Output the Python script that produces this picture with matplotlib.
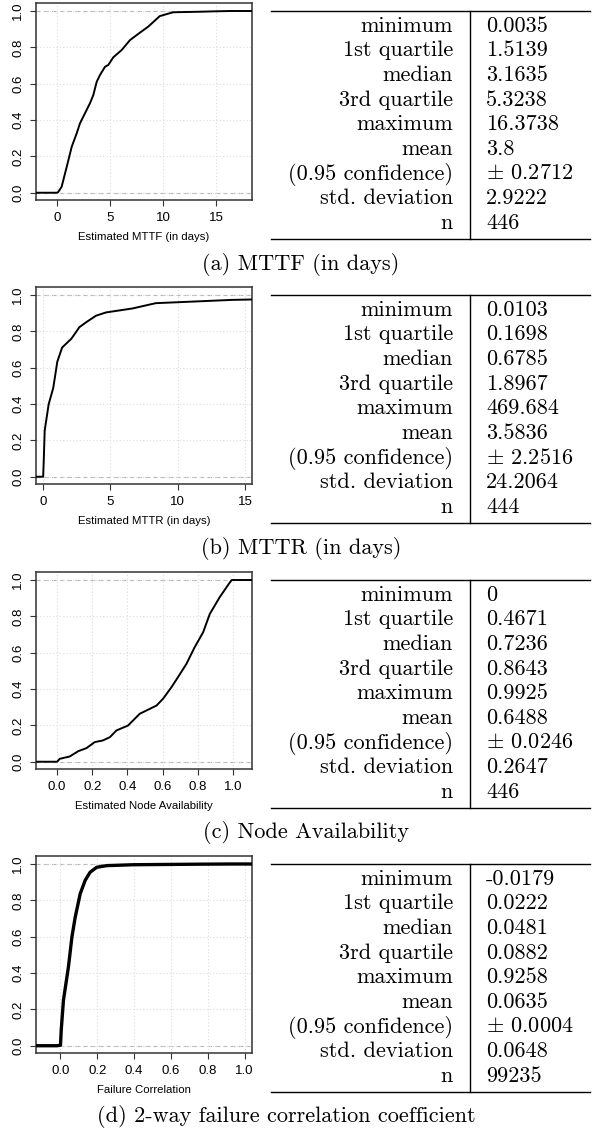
import matplotlib
matplotlib.use("Agg")
import matplotlib.pyplot as plt

plt.rcParams["mathtext.fontset"] = "cm"

# ---------------- data ----------------
stat_labels = ["minimum", "1st quartile", "median", "3rd quartile", "maximum",
               "mean", "(0.95 confidence)", "std. deviation", "n"]
mttf_stats = ["0.0035", "1.5139", "3.1635", "5.3238", "16.3738", "3.8",
              r"$\pm$ 0.2712", "2.9222", "446"]
mttr_stats = ["0.0103", "0.1698", "0.6785", "1.8967", "469.684", "3.5836",
              r"$\pm$ 2.2516", "24.2064", "444"]
avail_stats = ["0", "0.4671", "0.7236", "0.8643", "0.9925", "0.6488",
               r"$\pm$ 0.0246", "0.2647", "446"]
corr_stats = ["-0.0179", "0.0222", "0.0481", "0.0882", "0.9258", "0.0635",
              r"$\pm$ 0.0004", "0.0648", "99235"]

captions = ["(a) MTTF (in days)", "(b) MTTR (in days)",
            "(c) Node Availability", "(d) 2-way failure correlation coefficient"]
xlabels = ["Estimated MTTF (in days)", "Estimated MTTR (in days)",
           "Estimated Node Availability", "Failure Correlation"]

mttf_x = [-5, 0.0035, 0.12, 0.44, 0.92, 1.39, 1.86, 2.17, 2.64, 3.11, 3.43, 3.75,
          4.06, 4.53, 4.84, 5.31, 6.1, 6.89, 7.83, 8.61, 9.7, 10.96, 13.5, 14.76,
          16.3738, 40]
mttf_F = [0, 0, 0.004, 0.033, 0.143, 0.253, 0.327, 0.382, 0.437, 0.492, 0.538, 0.611,
          0.648, 0.693, 0.703, 0.745, 0.785, 0.84, 0.881, 0.914, 0.972, 0.993, 0.996,
          0.998, 1.0, 1.0]

mttr_x = [-5, 0.0103, 0.06, 0.125, 0.42, 0.76, 1.06, 1.42, 2.11, 2.70, 3.20, 3.93,
          4.67, 6.64, 8.36, 10.56, 14.0, 15.98, 469.684]
mttr_F = [0, 0, 0.1, 0.254, 0.399, 0.489, 0.633, 0.711, 0.76, 0.823, 0.85, 0.886,
          0.904, 0.926, 0.955, 0.962, 0.973, 0.976, 1.0]

avail_x = [-1, 0.0, 0.015, 0.072, 0.12, 0.167, 0.214, 0.26, 0.30, 0.337, 0.403, 0.47,
           0.508, 0.565, 0.602, 0.65, 0.687, 0.735, 0.782, 0.83, 0.868, 0.924, 0.981,
           0.9925, 2]
avail_F = [0, 0, 0.016, 0.029, 0.058, 0.075, 0.108, 0.117, 0.135, 0.172, 0.199, 0.264,
           0.282, 0.309, 0.346, 0.41, 0.465, 0.538, 0.63, 0.712, 0.813, 0.905, 0.985,
           1.0, 1.0]

corr_x = [-1, -0.0179, 0.0, 0.004, 0.016, 0.043, 0.062, 0.08, 0.107, 0.134, 0.161,
          0.197, 0.251, 0.396, 0.76, 0.9258, 2]
corr_F = [0, 0, 0.003, 0.086, 0.25, 0.433, 0.598, 0.708, 0.836, 0.91, 0.955,
          0.982, 0.991, 0.996, 0.999, 1.0, 1.0]

series_x = [mttf_x, mttr_x, avail_x, corr_x]
series_F = [mttf_F, mttr_F, avail_F, corr_F]
stats = [mttf_stats, mttr_stats, avail_stats, corr_stats]
xlims = [(-1.98, 18.4), (-0.52, 15.5), (-0.12, 1.108), (-0.133, 1.04)]
xticks = [[0, 5, 10, 15], [0, 5, 10, 15],
          [0.0, 0.2, 0.4, 0.6, 0.8, 1.0], [0.0, 0.2, 0.4, 0.6, 0.8, 1.0]]
xticklabels = [["0", "5", "10", "15"], ["0", "5", "10", "15"],
               ["0.0", "0.2", "0.4", "0.6", "0.8", "1.0"],
               ["0.0", "0.2", "0.4", "0.6", "0.8", "1.0"]]
yticks = [0.0, 0.2, 0.4, 0.6, 0.8, 1.0]
yticklabels = ["0.0", "0.2", "0.4", "0.6", "0.8", "1.0"]

# ---------------- layout ----------------
W, H = 595, 1128
fig = plt.figure(figsize=(W / 100, H / 100), dpi=100)
tops = [3, 287, 572, 856]
ax_left, ax_w, ax_h = 36, 216, 197
cap_cx = [301, 301, 306, 286]
lw_curve = [1.4, 1.4, 1.4, 2.4]

sans = ["Liberation Sans", "DejaVu Sans"]
serif = "cmr10"

for i in range(4):
    T = tops[i]
    ax = fig.add_axes([ax_left / W, 1 - (T + ax_h) / H, ax_w / W, ax_h / H])
    ax.set_xlim(*xlims[i])
    ax.set_ylim(-0.04, 1.044)
    ax.grid(True, color="#dcdcdc", linestyle=(0, (1, 2)), linewidth=0.8)
    ax.axhline(0, color="#b3b3b3", linestyle=(0, (4, 3)), linewidth=0.8, zorder=1)
    ax.axhline(1, color="#b3b3b3", linestyle=(0, (4, 3)), linewidth=0.8, zorder=1)
    ax.plot(series_x[i], series_F[i], color="black", lw=lw_curve[i], zorder=3,
            solid_joinstyle="round")
    ax.set_xticks(xticks[i])
    ax.set_xticklabels(xticklabels[i], fontfamily=sans, fontsize=9.5)
    ax.set_yticks(yticks)
    ax.set_yticklabels(yticklabels, fontfamily=sans, fontsize=9.5, rotation=90,
                       va="center")
    ax.tick_params(length=4.5, width=0.8, color="#333333", pad=4)
    for s in ax.spines.values():
        s.set_color("#333333")
        s.set_linewidth(1.1)
    ax.set_xlabel(xlabels[i], fontfamily=sans, fontsize=8.2, labelpad=6)

# overlay for tables and captions
ov = fig.add_axes([0, 0, 1, 1])
ov.set_xlim(0, W)
ov.set_ylim(H, 0)
ov.axis("off")
ov.patch.set_alpha(0)

for i in range(4):
    T = tops[i]
    ytop, ybot = T + 7.5, T + 236
    ov.plot([271, 590], [ytop, ytop], color="black", lw=1.0)
    ov.plot([271, 590], [ybot, ybot], color="black", lw=1.0)
    ov.plot([470, 470], [ytop, ybot], color="black", lw=1.0)
    for j, (lab, val) in enumerate(zip(stat_labels, stats[i])):
        y = T + 21 + 24.6 * j
        ov.text(453, y, lab, ha="right", va="center_baseline", fontfamily=serif,
                fontsize=16)
        ov.text(486, y, val, ha="left", va="center_baseline", fontfamily=serif,
                fontsize=16)
    ov.text(cap_cx[i], T + 258, captions[i], ha="center", va="center_baseline",
            fontfamily=serif, fontsize=16)

fig.savefig("out.png", dpi=100)
